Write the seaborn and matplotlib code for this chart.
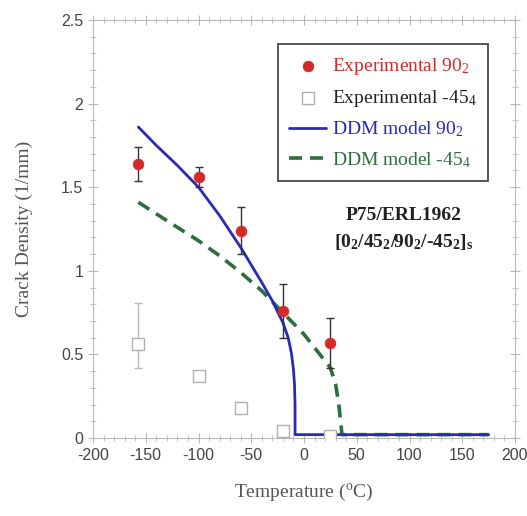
import matplotlib
matplotlib.use("Agg")
import matplotlib.pyplot as plt
from matplotlib.ticker import MultipleLocator
import numpy as np
import pandas as pd
import seaborn as sns

# Experimental crack densities (1/mm) vs temperature (degC)
temps_exp = [-157, -100, -60, -20, 25]
cd_90 = [1.64, 1.56, 1.24, 0.76, 0.57]
err_90 = [0.10, 0.06, 0.14, 0.16, 0.15]
cd_45 = [0.56, 0.37, 0.18, 0.04, 0.01]
err_45_lo = [0.14, 0.0, 0.0, 0.0, 0.0]
err_45_hi = [0.25, 0.0, 0.0, 0.0, 0.0]

# DDM model predictions
model_t_90 = [-157, -140, -120, -100, -80, -60, -40, -30, -20, -15, -12, -10, -9, -8.5, -8.5, 175]
model_cd_90 = [1.86, 1.75, 1.63, 1.50, 1.33, 1.14, 0.93, 0.82, 0.69, 0.60, 0.51, 0.41, 0.32, 0.20, 0.02, 0.02]
model_t_45 = [-157, -130, -100, -80, -60, -40, -20, 0, 10, 20, 25, 30, 33, 35, 36, 175]
model_cd_45 = [1.41, 1.30, 1.18, 1.09, 0.99, 0.88, 0.75, 0.62, 0.54, 0.46, 0.42, 0.32, 0.20, 0.08, 0.02, 0.02]

labels = ["Experimental 90$_2$", "Experimental -45$_4$",
          "DDM model 90$_2$", "DDM model -45$_4$"]
label_colors = ["#d42a2a", "#222222", "#2a2ab8", "#2d6e3e"]

sns.set_theme(style="ticks")
plt.rcParams["font.family"] = ["Liberation Serif", "DejaVu Serif"]
plt.rcParams["mathtext.fontset"] = "custom"
plt.rcParams["mathtext.rm"] = "Liberation Serif"
plt.rcParams["mathtext.it"] = "Liberation Serif:italic"
plt.rcParams["mathtext.bf"] = "Liberation Serif:bold"
plt.rcParams["axes.unicode_minus"] = False

fig = plt.figure(figsize=(5.27, 5.16), dpi=100)
ax = fig.add_axes([93 / 527, 1 - 438 / 516, 422 / 527, 418 / 516])

df90 = pd.DataFrame({"T": model_t_90, "cd": model_cd_90})
df45 = pd.DataFrame({"T": model_t_45, "cd": model_cd_45})
dfx = pd.DataFrame({"T": temps_exp, "cd90": cd_90, "cd45": cd_45})

# model curves
sns.lineplot(data=df45, x="T", y="cd", sort=False, estimator=None, ax=ax,
             color="#2d6e3e", lw=2.6, linestyle=(0, (3.6, 2.2)), zorder=2,
             label=labels[3])
sns.lineplot(data=df90, x="T", y="cd", sort=False, estimator=None, ax=ax,
             color="#2a2ab8", lw=2.0, zorder=3, label=labels[2])

# error bars
ax.errorbar(temps_exp, cd_90, yerr=err_90, fmt="none", ecolor="#333333",
            elinewidth=1.0, capsize=3, capthick=1.0, zorder=4)
mask = [i for i in range(len(temps_exp)) if err_45_hi[i] > 0]
ax.errorbar([temps_exp[i] for i in mask], [cd_45[i] for i in mask],
            yerr=[[err_45_lo[i] for i in mask], [err_45_hi[i] for i in mask]],
            fmt="none", ecolor="#bbbbbb", elinewidth=1.0, capsize=3,
            capthick=1.0, zorder=4)

# experimental points
sns.scatterplot(data=dfx, x="T", y="cd90", ax=ax, color="#d42a2a", s=60,
                edgecolor="#d42a2a", linewidth=0.5, zorder=5, label=labels[0])
sns.scatterplot(data=dfx, x="T", y="cd45", ax=ax, marker="s", s=70,
                facecolor="white", edgecolor="#b0b0b0", linewidth=1.0,
                zorder=5, label=labels[1])

ax.set_xlim(-200, 200)
ax.set_ylim(0, 2.5)
ax.xaxis.set_major_locator(MultipleLocator(50))
ax.xaxis.set_minor_locator(MultipleLocator(10))
ax.yaxis.set_major_locator(MultipleLocator(0.5))
ax.yaxis.set_minor_locator(MultipleLocator(0.1))
ax.set_yticks([0, 0.5, 1, 1.5, 2, 2.5])
ax.set_yticklabels(["0", "0.5", "1", "1.5", "2", "2.5"])

for s in ax.spines.values():
    s.set_color("#b8b8b8")
    s.set_linewidth(0.8)
ax.tick_params(which="both", direction="inout", color="#b8b8b8",
               top=True, right=True, labelsize=11.5, labelcolor="#444444")
ax.tick_params(which="major", length=7, width=0.8)
ax.tick_params(which="minor", length=4, width=0.6)
for t in ax.get_xticklabels() + ax.get_yticklabels():
    t.set_family(["Liberation Sans", "DejaVu Sans"])

ax.set_xlabel("Temperature ($^{\\mathrm{o}}$C)", fontsize=14, color="#555555",
              labelpad=14)
ax.set_ylabel("Crack Density (1/mm)", fontsize=14, color="#555555",
              labelpad=20)

# legend in the requested order
handles, labs = ax.get_legend_handles_labels()
order = [labs.index(l) for l in labels]
leg = ax.legend([handles[i] for i in order], labels, loc="upper right",
                bbox_to_anchor=(0.96, 0.965), fontsize=14, frameon=True,
                fancybox=False, edgecolor="#555555", framealpha=1,
                handlelength=1.9, handletextpad=0.3, borderpad=0.6,
                labelspacing=0.55)
leg.get_frame().set_linewidth(1.4)
for txt, c in zip(leg.get_texts(), label_colors):
    txt.set_color(c)

ax.text(0.735, 0.533, "P75/ERL1962", transform=ax.transAxes, ha="center",
        va="center", fontsize=14, fontweight="bold", color="#222222")
ax.text(0.735, 0.468,
        r"[0$_\mathbf{2}$/45$_\mathbf{2}$/90$_\mathbf{2}$/-45$_\mathbf{2}$]$_\mathbf{s}$",
        transform=ax.transAxes, ha="center", va="center", fontsize=14,
        fontweight="bold", color="#222222")

fig.savefig("out.png", dpi=100)
